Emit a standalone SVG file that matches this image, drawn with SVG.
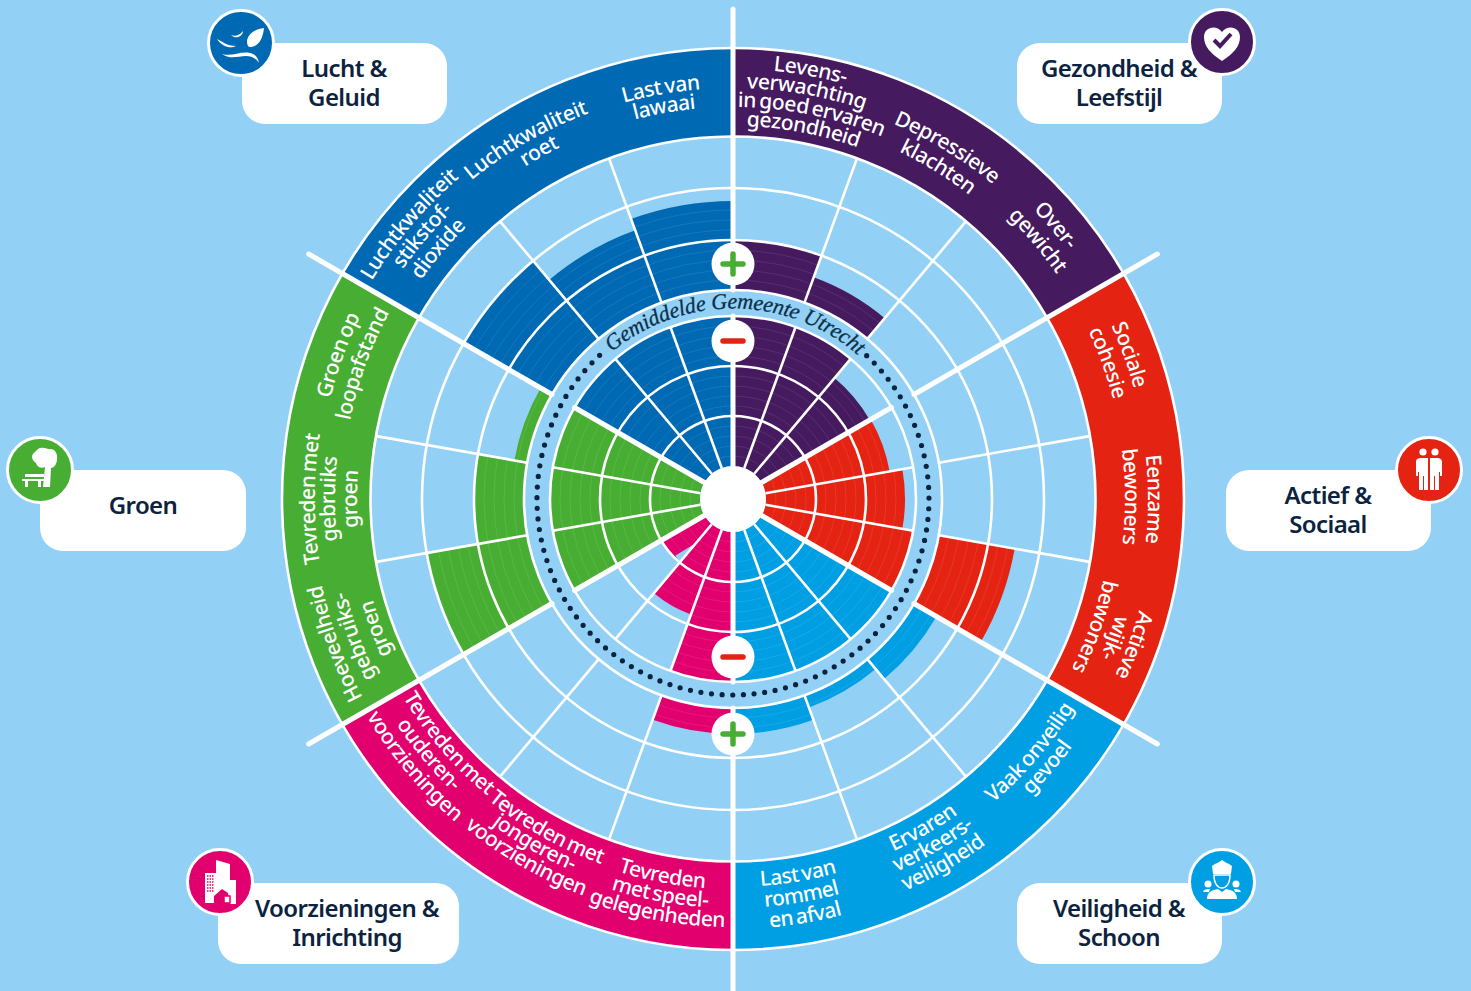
<svg xmlns="http://www.w3.org/2000/svg" width="1471" height="991" viewBox="0 0 1471 991">
<style>
.w{fill:none;stroke-dasharray:20 340}
.ring{fill:none;stroke:#fff;stroke-width:2.6}
.thin{fill:none;stroke:#fff;stroke-width:.5;stroke-opacity:.2}
.sp{stroke:#fff;stroke-width:2.6}
.th{stroke:#fff;stroke-width:5;stroke-linecap:round}
.l{font-family:"Noto Sans","Open Sans",sans-serif;font-size:21px;font-weight:500;fill:#fff;text-anchor:middle;letter-spacing:-.45px;word-spacing:-2px}
.t{font-family:"Noto Sans","Open Sans",sans-serif;font-size:24px;font-weight:600;fill:#0c2340;text-anchor:middle;letter-spacing:-.6px}
.box{fill:#fff}
.ic{stroke:#fff;stroke-width:3}
.wh{fill:#fff}
</style>
<defs>
<g id="wd-gez"><circle class="w" r="108" stroke-width="150" pathLength="360" transform="rotate(-90)"/><circle class="w" r="234" stroke-width="50" pathLength="360" transform="rotate(-90)"/><circle class="w" r="108" stroke-width="150" pathLength="360" transform="rotate(-70)"/><circle class="w" r="222.5" stroke-width="27" pathLength="360" transform="rotate(-70)"/><circle class="w" r="95.5" stroke-width="125" pathLength="360" transform="rotate(-50)"/></g>
<g id="wd-act"><circle class="w" r="96" stroke-width="126" pathLength="360" transform="rotate(-30)"/><circle class="w" r="102.5" stroke-width="139" pathLength="360" transform="rotate(-10)"/><circle class="w" r="108" stroke-width="150" pathLength="360" transform="rotate(10)"/><circle class="w" r="247.5" stroke-width="77" pathLength="360" transform="rotate(10)"/></g>
<g id="wd-vei"><circle class="w" r="108" stroke-width="150" pathLength="360" transform="rotate(30)"/><circle class="w" r="222" stroke-width="26" pathLength="360" transform="rotate(30)"/><circle class="w" r="108" stroke-width="150" pathLength="360" transform="rotate(50)"/><circle class="w" r="215.5" stroke-width="13" pathLength="360" transform="rotate(50)"/><circle class="w" r="108" stroke-width="150" pathLength="360" transform="rotate(70)"/><circle class="w" r="222" stroke-width="26" pathLength="360" transform="rotate(70)"/></g>
<g id="wd-voo"><circle class="w" r="108" stroke-width="150" pathLength="360" transform="rotate(90)"/><circle class="w" r="222" stroke-width="26" pathLength="360" transform="rotate(90)"/><circle class="w" r="78" stroke-width="90" pathLength="360" transform="rotate(110)"/><circle class="w" r="57.5" stroke-width="49" pathLength="360" transform="rotate(130)"/></g>
<g id="wd-gro"><circle class="w" r="108" stroke-width="150" pathLength="360" transform="rotate(150)"/><circle class="w" r="260" stroke-width="102" pathLength="360" transform="rotate(150)"/><circle class="w" r="108" stroke-width="150" pathLength="360" transform="rotate(170)"/><circle class="w" r="234" stroke-width="50" pathLength="360" transform="rotate(170)"/><circle class="w" r="108" stroke-width="150" pathLength="360" transform="rotate(190)"/><circle class="w" r="215.5" stroke-width="13" pathLength="360" transform="rotate(190)"/></g>
<g id="wd-luc"><circle class="w" r="108" stroke-width="150" pathLength="360" transform="rotate(210)"/><circle class="w" r="260" stroke-width="102" pathLength="360" transform="rotate(210)"/><circle class="w" r="108" stroke-width="150" pathLength="360" transform="rotate(230)"/><circle class="w" r="247.5" stroke-width="77" pathLength="360" transform="rotate(230)"/><circle class="w" r="108" stroke-width="150" pathLength="360" transform="rotate(250)"/><circle class="w" r="253.5" stroke-width="89" pathLength="360" transform="rotate(250)"/></g>
<mask id="wm" maskUnits="userSpaceOnUse" x="0" y="0" width="1471" height="991"><g transform="translate(733 499)" stroke="#fff"><use href="#wd-gez"/><use href="#wd-act"/><use href="#wd-vei"/><use href="#wd-voo"/><use href="#wd-gro"/><use href="#wd-luc"/></g></mask>
<path id="gem" d="M733 689.5A190.5 190.5 0 1 1 733 308.5A190.5 190.5 0 1 1 733 689.5"/>
<path id="c430" d="M733 929A430 430 0 1 1 733 69A430 430 0 1 1 733 929"/>
<path id="c422" d="M733 921A422 422 0 1 1 733 77A422 422 0 1 1 733 921"/>
<path id="c421" d="M733 920A421 421 0 1 1 733 78A421 421 0 1 1 733 920"/>
<path id="c420" d="M733 919A420 420 0 1 1 733 79A420 420 0 1 1 733 919"/>
<path id="c418" d="M733 917A418 418 0 1 1 733 81A418 418 0 1 1 733 917"/>
<path id="c417" d="M733 916A417 417 0 1 1 733 82A417 417 0 1 1 733 916"/>
<path id="c416" d="M733 915A416 416 0 1 1 733 83A416 416 0 1 1 733 915"/>
<path id="c415" d="M733 914A415 415 0 1 1 733 84A415 415 0 1 1 733 914"/>
<path id="c412" d="M733 911A412 412 0 1 1 733 87A412 412 0 1 1 733 911"/>
<path id="c411" d="M733 910A411 411 0 1 1 733 88A411 411 0 1 1 733 910"/>
<path id="c408" d="M733 907A408 408 0 1 1 733 91A408 408 0 1 1 733 907"/>
<path id="c402" d="M733 901A402 402 0 1 1 733 97A402 402 0 1 1 733 901"/>
<path id="c400" d="M733 899A400 400 0 1 1 733 99A400 400 0 1 1 733 899"/>
<path id="c398" d="M733 897A398 398 0 1 1 733 101A398 398 0 1 1 733 897"/>
<path id="c394" d="M733 893A394 394 0 1 1 733 105A394 394 0 1 1 733 893"/>
<path id="c393" d="M733 892A393 393 0 1 1 733 106A393 393 0 1 1 733 892"/>
<path id="c392" d="M733 891A392 392 0 1 1 733 107A392 392 0 1 1 733 891"/>
<path id="c391" d="M733 890A391 391 0 1 1 733 108A391 391 0 1 1 733 890"/>
<path id="c385" d="M733 884A385 385 0 1 1 733 114A385 385 0 1 1 733 884"/>
<path id="c381" d="M733 880A381 381 0 1 1 733 118A381 381 0 1 1 733 880"/>
<path id="c379" d="M733 878A379 379 0 1 1 733 120A379 379 0 1 1 733 878"/>
<path id="c376" d="M733 875A376 376 0 1 1 733 123A376 376 0 1 1 733 875"/>
<path id="c374" d="M733 873A374 374 0 1 1 733 125A374 374 0 1 1 733 873"/>
<path id="c373" d="M733 872A373 373 0 1 1 733 126A373 373 0 1 1 733 872"/>
<path id="a385" d="M733 114A385 385 0 1 0 733 884A385 385 0 1 0 733 114"/>
<path id="a387" d="M733 112A387 387 0 1 0 733 886A387 387 0 1 0 733 112"/>
<path id="a388" d="M733 111A388 388 0 1 0 733 887A388 388 0 1 0 733 111"/>
<path id="a390" d="M733 109A390 390 0 1 0 733 889A390 390 0 1 0 733 109"/>
<path id="a400" d="M733 99A400 400 0 1 0 733 899A400 400 0 1 0 733 99"/>
<path id="a405" d="M733 94A405 405 0 1 0 733 904A405 405 0 1 0 733 94"/>
<path id="a407" d="M733 92A407 407 0 1 0 733 906A407 407 0 1 0 733 92"/>
<path id="a409" d="M733 90A409 409 0 1 0 733 908A409 409 0 1 0 733 90"/>
<path id="a420" d="M733 79A420 420 0 1 0 733 919A420 420 0 1 0 733 79"/>
<path id="a424" d="M733 75A424 424 0 1 0 733 923A424 424 0 1 0 733 75"/>
<path id="a426" d="M733 73A426 426 0 1 0 733 925A426 426 0 1 0 733 73"/>
<path id="a428" d="M733 71A428 428 0 1 0 733 927A428 428 0 1 0 733 71"/>
<path id="a430" d="M733 69A430 430 0 1 0 733 929A430 430 0 1 0 733 69"/>
</defs>
<rect width="1471" height="991" fill="#92d1f5"/>
<g id="wheel" transform="translate(733 499)">
<g id="band" stroke-width="88">
<circle class="w" r="406.5" stroke="#451a5e" pathLength="360" transform="rotate(-90)" style="stroke-dasharray:60 300"/>
<circle class="w" r="406.5" stroke="#e42313" pathLength="360" transform="rotate(-30)" style="stroke-dasharray:60 300"/>
<circle class="w" r="406.5" stroke="#009fe3" pathLength="360" transform="rotate(30)" style="stroke-dasharray:60 300"/>
<circle class="w" r="406.5" stroke="#e2006e" pathLength="360" transform="rotate(90)" style="stroke-dasharray:60 300"/>
<circle class="w" r="406.5" stroke="#48ae33" pathLength="360" transform="rotate(150)" style="stroke-dasharray:60 300"/>
<circle class="w" r="406.5" stroke="#0069b4" pathLength="360" transform="rotate(210)" style="stroke-dasharray:60 300"/>
</g>
<g id="wedges">
<use href="#wd-gez" stroke="#451a5e"/><use href="#wd-act" stroke="#e42313"/><use href="#wd-vei" stroke="#009fe3"/><use href="#wd-voo" stroke="#e2006e"/><use href="#wd-gro" stroke="#48ae33"/><use href="#wd-luc" stroke="#0069b4"/>
</g>
</g>
<g mask="url(#wm)"><g transform="translate(733 499)">
<circle class="thin" r="43"/><circle class="thin" r="53"/><circle class="thin" r="63"/><circle class="thin" r="73"/><circle class="thin" r="93"/><circle class="thin" r="103"/><circle class="thin" r="113"/><circle class="thin" r="123"/><circle class="thin" r="143"/><circle class="thin" r="153"/><circle class="thin" r="163"/><circle class="thin" r="173"/><circle class="thin" r="219"/><circle class="thin" r="229"/><circle class="thin" r="239"/><circle class="thin" r="249"/><circle class="thin" r="269"/><circle class="thin" r="279"/><circle class="thin" r="289"/><circle class="thin" r="299"/>
</g></g>
<g id="grid" transform="translate(733 499)">
<circle class="ring" r="83"/><circle class="ring" r="133"/><circle class="ring" r="183"/><circle class="ring" r="209"/><circle class="ring" r="259"/><circle class="ring" r="311"/><circle class="ring" r="362.5"/><circle class="ring" r="451"/>
<g id="spokes">
<path class="sp" transform="rotate(20)" d="M0-33V-183M0-209V-362"/>
<path class="sp" transform="rotate(40)" d="M0-33V-183M0-209V-362"/>
<path class="sp" transform="rotate(80)" d="M0-33V-183M0-209V-362"/>
<path class="sp" transform="rotate(100)" d="M0-33V-183M0-209V-362"/>
<path class="sp" transform="rotate(140)" d="M0-33V-183M0-209V-362"/>
<path class="sp" transform="rotate(160)" d="M0-33V-183M0-209V-362"/>
<path class="sp" transform="rotate(200)" d="M0-33V-183M0-209V-362"/>
<path class="sp" transform="rotate(220)" d="M0-33V-183M0-209V-362"/>
<path class="sp" transform="rotate(260)" d="M0-33V-183M0-209V-362"/>
<path class="sp" transform="rotate(280)" d="M0-33V-183M0-209V-362"/>
<path class="sp" transform="rotate(320)" d="M0-33V-183M0-209V-362"/>
<path class="sp" transform="rotate(340)" d="M0-33V-183M0-209V-362"/>
<path class="th" d="M0-33V-183M0-209V-490"/>
<path class="th" transform="rotate(60)" d="M0-33V-183M0-209V-490"/>
<path class="th" transform="rotate(120)" d="M0-33V-183M0-209V-490"/>
<path class="th" transform="rotate(180)" d="M0-33V-183M0-209V-495"/>
<path class="th" transform="rotate(240)" d="M0-33V-183M0-209V-490"/>
<path class="th" transform="rotate(300)" d="M0-33V-183M0-209V-490"/>
</g>
<circle r="33" fill="#fff"/>
<path id="dots" d="M133.7-143.3A196 196 0 1 1-129.9-146.8" fill="none" stroke="#0c2340" stroke-width="5.2" stroke-linecap="round" stroke-dasharray="0 10.65"/>
<g id="plus-top"><circle cy="-235" r="21.5" fill="#fff"/><path d="M-10-235H10M0-245V-225" stroke="#48ae33" stroke-width="5.5" stroke-linecap="round"/></g>
<g id="minus-top"><circle cy="-158" r="21.5" fill="#fff"/><path d="M-10-158H10" stroke="#e42313" stroke-width="5.5" stroke-linecap="round"/></g>
<g id="minus-bottom"><circle cy="158" r="21.5" fill="#fff"/><path d="M-10 158H10" stroke="#e42313" stroke-width="5.5" stroke-linecap="round"/></g>
<g id="plus-bottom"><circle cy="235" r="21.5" fill="#fff"/><path d="M-10 235H10M0 225V245" stroke="#48ae33" stroke-width="5.5" stroke-linecap="round"/></g>
</g>
<text font-family="'Liberation Serif',serif" font-style="italic" font-size="22" fill="#0c2f4a" stroke="#0c2f4a" stroke-width=".3" text-anchor="middle" letter-spacing="-.15"><textPath href="#gem" startOffset="50.2%">Gemiddelde Gemeente Utrecht</textPath></text>
<g id="labels-gezondheid">
<text class="l"><textPath href="#c430" startOffset="52.85%">Levens-</textPath></text>
<text class="l"><textPath href="#c411" startOffset="52.85%">verwachting</textPath></text>
<text class="l"><textPath href="#c392" startOffset="53.2%">in goed ervaren</textPath></text>
<text class="l"><textPath href="#c373" startOffset="53%">gezondheid</textPath></text>
<text class="l"><textPath href="#c408" startOffset="58.7%">Depressieve</textPath></text>
<text class="l"><textPath href="#c385" startOffset="58.8%">klachten</textPath></text>
<text class="l"><textPath href="#c417" startOffset="63.8%">Over-</textPath></text>
<text class="l"><textPath href="#c394" startOffset="63.8%">gewicht</textPath></text>
</g>
<g id="labels-actief">
<text class="l"><textPath href="#c416" startOffset="69.44%">Sociale</textPath></text>
<text class="l"><textPath href="#c393" startOffset="69.44%">cohesie</textPath></text>
<text class="l"><textPath href="#c415" startOffset="75%">Eenzame</textPath></text>
<text class="l"><textPath href="#c392" startOffset="74.9%">bewoners</textPath></text>
<text class="l"><textPath href="#c421" startOffset="80.56%">Actieve</textPath></text>
<text class="l"><textPath href="#c400" startOffset="80.56%">wijk-</textPath></text>
<text class="l"><textPath href="#c379" startOffset="80.4%">bewoners</textPath></text>
</g>
<g id="labels-veiligheid">
<text class="l"><textPath href="#a400" startOffset="63.75%">Vaak onveilig</textPath></text>
<text class="l"><textPath href="#a420" startOffset="63.75%">gevoel</textPath></text>
<text class="l"><textPath href="#a387" startOffset="58.33%">Ervaren</textPath></text>
<text class="l"><textPath href="#a407" startOffset="58.33%">verkeers-</textPath></text>
<text class="l"><textPath href="#a428" startOffset="58.33%">veiligheid</textPath></text>
<text class="l"><textPath href="#a388" startOffset="52.72%">Last van</textPath></text>
<text class="l"><textPath href="#a409" startOffset="52.72%">rommel</textPath></text>
<text class="l"><textPath href="#a430" startOffset="52.72%">en afval</textPath></text>
</g>
<g id="labels-voorzieningen">
<text class="l"><textPath href="#a390" startOffset="47.05%">Tevreden</textPath></text>
<text class="l"><textPath href="#a409" startOffset="47.1%">met speel-</textPath></text>
<text class="l"><textPath href="#a428" startOffset="47.1%">gelegenheden</textPath></text>
<text class="l"><textPath href="#a388" startOffset="41.8%">Tevreden met</textPath></text>
<text class="l"><textPath href="#a405" startOffset="41.67%">jongeren-</textPath></text>
<text class="l"><textPath href="#a424" startOffset="41.67%">voorzieningen</textPath></text>
<text class="l"><textPath href="#a385" startOffset="36.3%">Tevreden met</textPath></text>
<text class="l"><textPath href="#a405" startOffset="36.11%">ouderen-</textPath></text>
<text class="l"><textPath href="#a426" startOffset="36.11%">voorzieningen</textPath></text>
</g>
<g id="labels-groen">
<text class="l"><textPath href="#c420" startOffset="19.44%">Hoeveelheid</textPath></text>
<text class="l"><textPath href="#c398" startOffset="19.44%">gebruiks-</textPath></text>
<text class="l"><textPath href="#c374" startOffset="19.44%">groen</textPath></text>
<text class="l"><textPath href="#c418" startOffset="25%">Tevreden met</textPath></text>
<text class="l"><textPath href="#c398" startOffset="25%">gebruiks</textPath></text>
<text class="l"><textPath href="#c376" startOffset="25%">groen</textPath></text>
<text class="l"><textPath href="#c415" startOffset="30.56%">Groen op</textPath></text>
<text class="l"><textPath href="#c391" startOffset="30.56%">loopafstand</textPath></text>
</g>
<g id="labels-lucht">
<text class="l"><textPath href="#c422" startOffset="36.2%">Luchtkwaliteit</textPath></text>
<text class="l"><textPath href="#c402" startOffset="36.2%">stikstof-</textPath></text>
<text class="l"><textPath href="#c381" startOffset="36.2%">dioxide</textPath></text>
<text class="l"><textPath href="#c412" startOffset="41.67%">Luchtkwaliteit</textPath></text>
<text class="l"><textPath href="#c392" startOffset="41.9%">roet</textPath></text>
<text class="l"><textPath href="#c411" startOffset="47.22%">Last van</textPath></text>
<text class="l"><textPath href="#c392" startOffset="47.22%">lawaai</textPath></text>
</g>
<g id="node-lucht">
<rect class="box" x="242" y="43" width="205" height="81" rx="23"/>
<text class="t" x="344" y="77">Lucht &amp;</text><text class="t" x="344" y="106">Geluid</text>
<circle class="ic" cx="241" cy="43" r="32.5" fill="#0069b4"/>
<path class="wh" d="M264 28C256 29 248 33 247 41C247 45 248 47 250 47C258 47 263 39 264 28ZM217 39C222 41 226 46 236 46C231 49 222 47 217 39ZM231 35C235 37 240 35 243 31C243 36 236 40 231 35ZM222 54C232 57 240 51 250 53C255 54 258 57 259 63C256 58 251 56 246 56C238 56 230 60 222 54Z"/>
</g>
<g id="node-gezondheid">
<rect class="box" x="1017" y="43" width="205" height="81" rx="23"/>
<text class="t" x="1119" y="77">Gezondheid &amp;</text><text class="t" x="1119" y="106">Leefstijl</text>
<circle class="ic" cx="1222" cy="42" r="32.5" fill="#451a5e"/>
<path class="wh" d="M1222 61C1210 53 1204 46 1204 37C1204 27 1216 24 1222 32C1228 24 1240 27 1240 37C1240 46 1234 53 1222 61Z"/>
<path d="M1214 40L1220 46L1231 34" fill="none" stroke="#451a5e" stroke-width="4"/>
</g>
<g id="node-groen">
<rect class="box" x="40" y="470" width="206" height="81" rx="23"/>
<text class="t" x="143" y="514">Groen</text>
<circle class="ic" cx="40" cy="470" r="32.5" fill="#48ae33"/>
<path class="wh" d="M38 449C44 446 48 450 50 449C55 449 58 454 57 459C57 464 54 468 51 468L50 487H43L45 467C41 469 37 467 36 463C31 460 31 454 35 452Z"/>
<path class="wh" d="M22 479H45V481H41V487H38V481H28V487H25V481H22ZM25 474H44V477H25Z"/>
</g>
<g id="node-actief">
<rect class="box" x="1226" y="470" width="205" height="81" rx="23"/>
<text class="t" x="1328" y="504">Actief &amp;</text><text class="t" x="1328" y="533">Sociaal</text>
<circle class="ic" cx="1429" cy="470" r="32.5" fill="#e42313"/>
<circle class="wh" cx="1423" cy="452" r="3.6"/><circle class="wh" cx="1435" cy="452" r="3.6"/>
<path class="wh" d="M1416 476V462C1416 459 1418 458 1421 458H1428V490H1424V476H1423V490H1419V472H1418V476ZM1442 476V462C1442 459 1440 458 1437 458H1430V490H1434V476H1435V490H1439V472H1440V476Z"/>
</g>
<g id="node-voorzieningen">
<rect class="box" x="218" y="883" width="241" height="81" rx="23"/>
<text class="t" x="347" y="917">Voorzieningen &amp;</text><text class="t" x="347" y="946">Inrichting</text>
<circle class="ic" cx="220" cy="882" r="32.5" fill="#e2006e"/>
<path class="wh" d="M205 873H216V860L230 864V880H236V904H230L228 893L222 889L214 896V903H205Z"/>
<path d="M207 876H214M207 879H214M207 882H214M207 885H214M207 888H214M207 891H214" stroke="#e2006e" stroke-width="1.5" stroke-dasharray="1.5 1"/>
<path d="M224 896H230V903H224Z" fill="#fff" stroke="#e2006e" stroke-width="1.5"/>
</g>
<g id="node-veiligheid">
<rect class="box" x="1017" y="883" width="205" height="81" rx="23"/>
<text class="t" x="1119" y="917">Veiligheid &amp;</text><text class="t" x="1119" y="946">Schoon</text>
<circle class="ic" cx="1222" cy="882" r="32.5" fill="#009fe3"/>
<path class="wh" d="M1212 866C1216 863 1220 862 1222 860C1224 862 1228 863 1232 866L1231 874H1213Z"/>
<path d="M1214 875H1230C1230 884 1226 888 1222 888C1218 888 1214 884 1214 875Z" fill="#009fe3" stroke="#fff" stroke-width="1.5"/>
<path class="wh" d="M1207 899C1207 892 1212 890 1218 889L1222 892L1226 889C1232 890 1237 892 1237 899Z"/>
<circle class="wh" cx="1208" cy="884" r="3.5"/><circle class="wh" cx="1236" cy="884" r="3.5"/>
<path class="wh" d="M1203 892C1204 889 1207 889 1210 889L1209 892ZM1241 892C1240 889 1237 889 1234 889L1235 892Z"/>
</g>
</svg>
